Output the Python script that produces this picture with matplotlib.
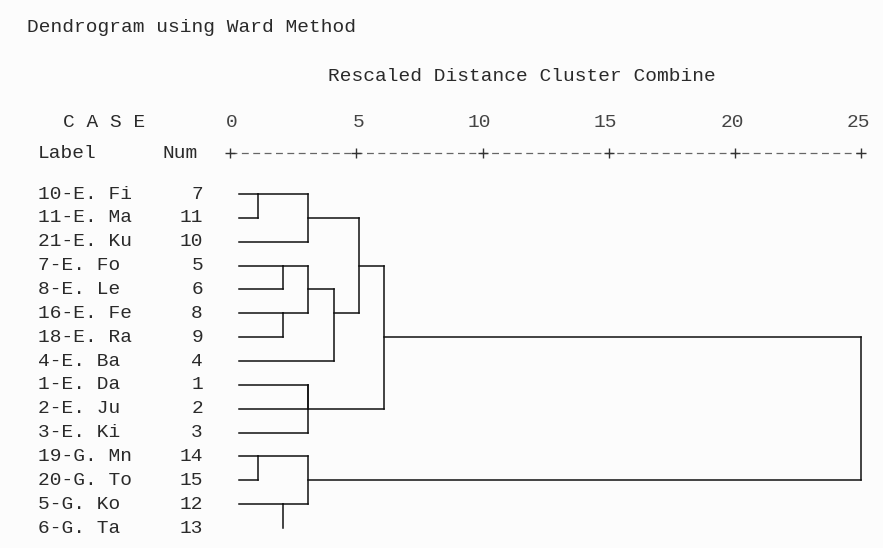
import math
import matplotlib.pyplot as plt

# Dados
labels = ["10-E. Fi", "11-E. Ma", "21-E. Ku", "7-E. Fo", "8-E. Le", "16-E. Fe",
          "18-E. Ra", "4-E. Ba", "1-E. Da", "2-E. Ju", "3-E. Ki", "19-G. Mn",
          "20-G. To", "5-G. Ko", "6-G. Ta"]
nums = [7, 11, 10, 5, 6, 8, 9, 4, 1, 2, 3, 14, 15, 12, 13]

# fusões: (nó a, nó b, distância reescalada) -> novos nós 15, 16, ...
merge_a = [0, 15, 3, 5, 17, 19, 16, 8, 22, 21, 11, 13, 25, 24]
merge_b = [1, 2, 4, 6, 18, 7, 20, 9, 10, 23, 12, 14, 26, 27]
merge_d = [1.1, 3.1, 2.1, 2.1, 3.1, 4.1, 5.1, 3.1, 3.1, 6.1, 1.1, 2.1, 3.1, 25.0]

ticks = [0, 5, 10, 15, 20, 25]
leaf_line = [True] * 14 + [False]   # a última folha não tem traço no original

# Escalas (pixel -> dados)
X0, XS = 230.0, 25.25
Y0, YS = 194.0, 23.86
def dx(px):
    return (px - X0) / XS
def dy(py):
    return (py - Y0) / YS

fonte = "Liberation Mono"
cor_txt = "#2a2a2a"
fs = 14

fig = plt.figure(figsize=(8.83, 5.48), dpi=100)
fig.patch.set_facecolor("#fcfcfc")
ax = fig.add_axes([0, 0, 1, 1])
ax.set_facecolor("#fcfcfc")
ax.set_xlim(dx(0), dx(883))
ax.set_ylim(dy(548), dy(0))
ax.axis("off")

# Cabeçalho
ax.text(dx(27), dy(28), "Dendrogram using Ward Method", family=fonte, fontsize=fs,
        color=cor_txt, va="center", ha="left")
ax.text(dx(328), dy(76), "Rescaled Distance Cluster Combine", family=fonte,
        fontsize=fs, color=cor_txt, va="center", ha="left")
ax.text(dx(63), dy(122), "C A S E", family=fonte, fontsize=fs, color=cor_txt,
        va="center", ha="left")
ax.text(dx(38), dy(153), "Label", family=fonte, fontsize=fs, color=cor_txt,
        va="center", ha="left")
ax.text(dx(163), dy(153), "Num", family=fonte, fontsize=fs, color=cor_txt,
        va="center", ha="left")

# Régua
for t in ticks:
    off = -0.12 if t >= 10 else 0.08
    ax.text(t + off, dy(122), str(t), family=fonte, fontsize=fs, color="#444444",
            va="center", ha="center")
ax.plot([ticks[0], ticks[-1]], [dy(153)] * 2, color="#666666", lw=0.9,
        linestyle=(0, (5.5, 3.6)))
ax.plot(ticks, [dy(153)] * len(ticks), linestyle="none", marker="+", ms=7,
        mew=1.0, color="#333333")

# Folhas
for i, (lab, n) in enumerate(zip(labels, nums)):
    ax.text(dx(38), i, lab, family=fonte, fontsize=fs, color=cor_txt,
            va="center", ha="left")
    ax.text(dx(203), i, str(n), family=fonte, fontsize=fs, color=cor_txt,
            va="center", ha="right")

# Dendrograma
inicio = dx(239)
nos = [(inicio, float(i)) for i in range(len(labels))]
for a, b, d in zip(merge_a, merge_b, merge_d):
    xa, ra = nos[a]
    xb, rb = nos[b]
    if a >= len(labels) or leaf_line[a]:
        ax.plot([xa, d], [ra, ra], color="#111111", lw=1.1)
    if b >= len(labels) or leaf_line[b]:
        ax.plot([xb, d], [rb, rb], color="#111111", lw=1.1)
    ax.plot([d, d], [ra, rb], color="#111111", lw=1.1)
    nos.append((d, float(math.floor((ra + rb) / 2))))

fig.savefig("out.png", dpi=100, facecolor=fig.get_facecolor())
